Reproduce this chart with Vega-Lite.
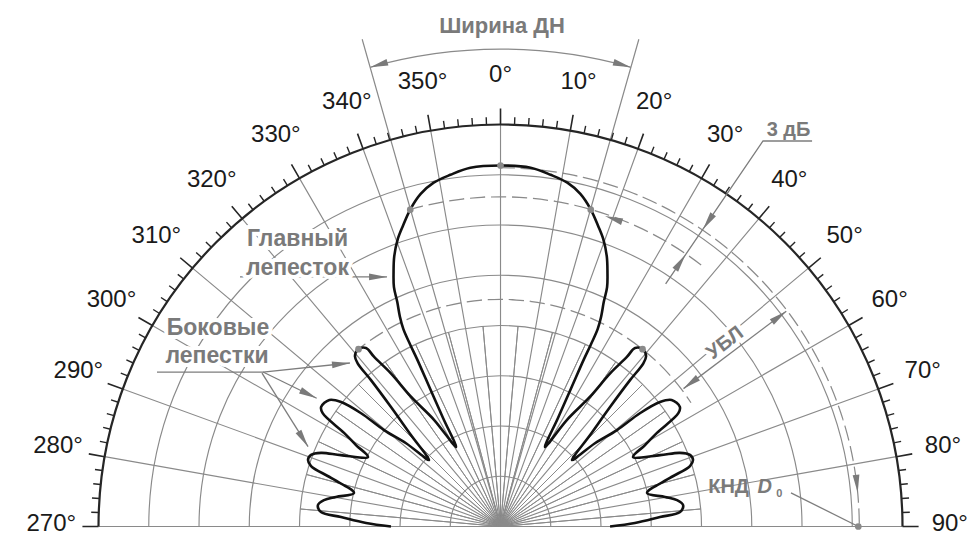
{
"$schema": "https://vega.github.io/schema/vega-lite/v6.json",
"width": 976, "height": 535, "padding": 0,
"autosize": {"type": "none"},
"background": "white",
"config": {"view": {"stroke": null}},
"layer": [
{"data": {"values": [{"r":5},{"r":10},{"r":15},{"r":20},{"r":25},{"r":30},{"r":35}]},
 "mark": {"type":"arc","fill":"transparent","stroke":"#8a8a8a","strokeWidth":1.15},
 "encoding": {
  "x":{"datum":0,"type":"quantitative","scale":{"domain":[-49.8,47.31],"nice":false,"zero":false},"axis":null},
  "y":{"datum":0,"type":"quantitative","scale":{"domain":[-0.846,52.39],"nice":false,"zero":false},"axis":null},
  "theta":{"datum":-90,"type":"quantitative","scale":{"domain":[-180,180],"range":[-3.14159265,3.14159265]}},
  "theta2":{"datum":90},
  "radius":{"field":"r","type":"quantitative","scale":{"type":"linear","domain":[0,40],"range":[0,402]}},
  "radius2":{"field":"r"}}},
{"data": {"values": [{"a":-90},{"a":-80},{"a":-70},{"a":-60},{"a":-50},{"a":-40},{"a":-30},{"a":-20},{"a":-10},{"a":0},{"a":10},{"a":20},{"a":30},{"a":40},{"a":50},{"a":60},{"a":70},{"a":80},{"a":90}]},
 "mark": {"type":"arc","fill":"transparent","stroke":"#8a8a8a","strokeWidth":1.15},
 "encoding": {
  "x":{"datum":0,"type":"quantitative","scale":{"domain":[-49.8,47.31],"nice":false,"zero":false},"axis":null},
  "y":{"datum":0,"type":"quantitative","scale":{"domain":[-0.846,52.39],"nice":false,"zero":false},"axis":null},
  "theta":{"field":"a","type":"quantitative","scale":{"domain":[-180,180],"range":[-3.14159265,3.14159265]}},
  "theta2":{"field":"a"},
  "radius":{"datum":0,"type":"quantitative","scale":{"type":"linear","domain":[0,40],"range":[0,402]}},
  "radius2":{"datum":40}}},
{"data": {"values": [{"a":-85},{"a":-75},{"a":-65},{"a":-55},{"a":-45},{"a":-35},{"a":-25},{"a":-15},{"a":-5},{"a":5},{"a":15},{"a":25},{"a":35},{"a":45},{"a":55},{"a":65},{"a":75},{"a":85}]},
 "mark": {"type":"arc","fill":"transparent","stroke":"#8a8a8a","strokeWidth":1.0},
 "encoding": {
  "x":{"datum":0,"type":"quantitative","scale":{"domain":[-49.8,47.31],"nice":false,"zero":false},"axis":null},
  "y":{"datum":0,"type":"quantitative","scale":{"domain":[-0.846,52.39],"nice":false,"zero":false},"axis":null},
  "theta":{"field":"a","type":"quantitative","scale":{"domain":[-180,180],"range":[-3.14159265,3.14159265]}},
  "theta2":{"field":"a"},
  "radius":{"datum":0,"type":"quantitative","scale":{"type":"linear","domain":[0,40],"range":[0,402]}},
  "radius2":{"datum":20}}},
{"data": {"values": [{"a":-15.85},{"a":15.85}]},
 "mark": {"type":"arc","fill":"transparent","stroke":"#8a8a8a","strokeWidth":1.2},
 "encoding": {
  "x":{"datum":0,"type":"quantitative","scale":{"domain":[-49.8,47.31],"nice":false,"zero":false},"axis":null},
  "y":{"datum":0,"type":"quantitative","scale":{"domain":[-0.846,52.39],"nice":false,"zero":false},"axis":null},
  "theta":{"field":"a","type":"quantitative","scale":{"domain":[-180,180],"range":[-3.14159265,3.14159265]}},
  "theta2":{"field":"a"},
  "radius":{"datum":0,"type":"quantitative","scale":{"type":"linear","domain":[0,40],"range":[0,402]}},
  "radius2":{"datum":50.4}}},
{"data": {"values": [{"a":0,"a2":90,"r":35.7}]},
 "mark": {"type":"arc","fill":"transparent","stroke":"#8a8a8a","strokeWidth":1.2,"strokeDash":[15,6],"strokeDashOffset":0.42},
 "encoding": {
  "x":{"datum":0,"type":"quantitative","scale":{"domain":[-49.8,47.31],"nice":false,"zero":false},"axis":null},
  "y":{"datum":0,"type":"quantitative","scale":{"domain":[-0.846,52.39],"nice":false,"zero":false},"axis":null},
  "theta":{"field":"a","type":"quantitative","scale":{"domain":[-180,180],"range":[-3.14159265,3.14159265]}},
  "theta2":{"field":"a2"},
  "radius":{"field":"r","type":"quantitative","scale":{"type":"linear","domain":[0,40],"range":[0,402]}},
  "radius2":{"field":"r"}}},
{"data": {"values": [{"a":-15.9,"a2":38,"r":32.8}]},
 "mark": {"type":"arc","fill":"transparent","stroke":"#8a8a8a","strokeWidth":1.2,"strokeDash":[15,6],"strokeDashOffset":1.9},
 "encoding": {
  "x":{"datum":0,"type":"quantitative","scale":{"domain":[-49.8,47.31],"nice":false,"zero":false},"axis":null},
  "y":{"datum":0,"type":"quantitative","scale":{"domain":[-0.846,52.39],"nice":false,"zero":false},"axis":null},
  "theta":{"field":"a","type":"quantitative","scale":{"domain":[-180,180],"range":[-3.14159265,3.14159265]}},
  "theta2":{"field":"a2"},
  "radius":{"field":"r","type":"quantitative","scale":{"type":"linear","domain":[0,40],"range":[0,402]}},
  "radius2":{"field":"r"}}},
{"data": {"values": [{"a":-39.2,"a2":57,"r":22.6}]},
 "mark": {"type":"arc","fill":"transparent","stroke":"#8a8a8a","strokeWidth":1.2,"strokeDash":[15,6],"strokeDashOffset":4.15},
 "encoding": {
  "x":{"datum":0,"type":"quantitative","scale":{"domain":[-49.8,47.31],"nice":false,"zero":false},"axis":null},
  "y":{"datum":0,"type":"quantitative","scale":{"domain":[-0.846,52.39],"nice":false,"zero":false},"axis":null},
  "theta":{"field":"a","type":"quantitative","scale":{"domain":[-180,180],"range":[-3.14159265,3.14159265]}},
  "theta2":{"field":"a2"},
  "radius":{"field":"r","type":"quantitative","scale":{"type":"linear","domain":[0,40],"range":[0,402]}},
  "radius2":{"field":"r"}}},
{"data": {"values": [{"a":-15.85,"a2":15.85,"r":47.5}]},
 "mark": {"type":"arc","fill":"transparent","stroke":"#8a8a8a","strokeWidth":1.3},
 "encoding": {
  "x":{"datum":0,"type":"quantitative","scale":{"domain":[-49.8,47.31],"nice":false,"zero":false},"axis":null},
  "y":{"datum":0,"type":"quantitative","scale":{"domain":[-0.846,52.39],"nice":false,"zero":false},"axis":null},
  "theta":{"field":"a","type":"quantitative","scale":{"domain":[-180,180],"range":[-3.14159265,3.14159265]}},
  "theta2":{"field":"a2"},
  "radius":{"field":"r","type":"quantitative","scale":{"type":"linear","domain":[0,40],"range":[0,402]}},
  "radius2":{"field":"r"}}},
{"data": {"values": [{"a":-90,"a2":90,"r":40}]},
 "mark": {"type":"arc","fill":"transparent","stroke":"#262626","strokeWidth":2.2},
 "encoding": {
  "x":{"datum":0,"type":"quantitative","scale":{"domain":[-49.8,47.31],"nice":false,"zero":false},"axis":null},
  "y":{"datum":0,"type":"quantitative","scale":{"domain":[-0.846,52.39],"nice":false,"zero":false},"axis":null},
  "theta":{"field":"a","type":"quantitative","scale":{"domain":[-180,180],"range":[-3.14159265,3.14159265]}},
  "theta2":{"field":"a2"},
  "radius":{"field":"r","type":"quantitative","scale":{"type":"linear","domain":[0,40],"range":[0,402]}},
  "radius2":{"field":"r"}}},
{"data": {"values": [{"a":-88},{"a":-86},{"a":-84},{"a":-82},{"a":-78},{"a":-76},{"a":-74},{"a":-72},{"a":-68},{"a":-66},{"a":-64},{"a":-62},{"a":-58},{"a":-56},{"a":-54},{"a":-52},{"a":-48},{"a":-46},{"a":-44},{"a":-42},{"a":-38},{"a":-36},{"a":-34},{"a":-32},{"a":-28},{"a":-26},{"a":-24},{"a":-22},{"a":-18},{"a":-16},{"a":-14},{"a":-12},{"a":-8},{"a":-6},{"a":-4},{"a":-2},{"a":2},{"a":4},{"a":6},{"a":8},{"a":12},{"a":14},{"a":16},{"a":18},{"a":22},{"a":24},{"a":26},{"a":28},{"a":32},{"a":34},{"a":36},{"a":38},{"a":42},{"a":44},{"a":46},{"a":48},{"a":52},{"a":54},{"a":56},{"a":58},{"a":62},{"a":64},{"a":66},{"a":68},{"a":72},{"a":74},{"a":76},{"a":78},{"a":82},{"a":84},{"a":86},{"a":88}]},
 "mark": {"type":"arc","fill":"transparent","stroke":"#262626","strokeWidth":1.4},
 "encoding": {
  "x":{"datum":0,"type":"quantitative","scale":{"domain":[-49.8,47.31],"nice":false,"zero":false},"axis":null},
  "y":{"datum":0,"type":"quantitative","scale":{"domain":[-0.846,52.39],"nice":false,"zero":false},"axis":null},
  "theta":{"field":"a","type":"quantitative","scale":{"domain":[-180,180],"range":[-3.14159265,3.14159265]}},
  "theta2":{"field":"a"},
  "radius":{"datum":40,"type":"quantitative","scale":{"type":"linear","domain":[0,40],"range":[0,402]}},
  "radius2":{"datum":40.75}}},
{"data": {"values": [{"a":-90},{"a":-80},{"a":-70},{"a":-60},{"a":-50},{"a":-40},{"a":-30},{"a":-20},{"a":-10},{"a":0},{"a":10},{"a":20},{"a":30},{"a":40},{"a":50},{"a":60},{"a":70},{"a":80},{"a":90}]},
 "mark": {"type":"arc","fill":"transparent","stroke":"#262626","strokeWidth":1.6},
 "encoding": {
  "x":{"datum":0,"type":"quantitative","scale":{"domain":[-49.8,47.31],"nice":false,"zero":false},"axis":null},
  "y":{"datum":0,"type":"quantitative","scale":{"domain":[-0.846,52.39],"nice":false,"zero":false},"axis":null},
  "theta":{"field":"a","type":"quantitative","scale":{"domain":[-180,180],"range":[-3.14159265,3.14159265]}},
  "theta2":{"field":"a"},
  "radius":{"datum":40,"type":"quantitative","scale":{"type":"linear","domain":[0,40],"range":[0,402]}},
  "radius2":{"datum":41.6}}},
{"data": {"values": [
  {"g":"w3db","i":0,"x":16.43,"y":24.14},{"g":"w3db","i":1,"x":26.12,"y":38.36},{"g":"w3db","i":2,"x":31.0,"y":38.36},
  {"g":"ubl","i":0,"x":18.21,"y":13.72},{"g":"ubl","i":1,"x":28.43,"y":21.42},
  {"g":"knd","i":0,"x":28.9,"y":3.35},{"g":"knd","i":1,"x":35.6,"y":0.0},
  {"g":"main","i":0,"x":-25.92,"y":24.83},{"g":"main","i":1,"x":-11.29,"y":24.83},
  {"g":"s0","i":0,"x":-34.18,"y":15.37},{"g":"s0","i":1,"x":-23.63,"y":15.37},
  {"g":"s1","i":0,"x":-23.63,"y":15.37},{"g":"s1","i":1,"x":-14.98,"y":16.27},
  {"g":"s2","i":0,"x":-23.63,"y":15.37},{"g":"s2","i":1,"x":-18.29,"y":12.76},
  {"g":"s3","i":0,"x":-23.73,"y":15.27},{"g":"s3","i":1,"x":-19.15,"y":7.94}]},
 "mark": {"type":"line","color":"#7d7d7d","strokeWidth":1.3},
 "encoding": {
  "x":{"field":"x","type":"quantitative","scale":{"domain":[-49.8,47.31],"nice":false,"zero":false},"axis":null},
  "y":{"field":"y","type":"quantitative","scale":{"domain":[-0.846,52.39],"nice":false,"zero":false},"axis":null},
  "detail":{"field":"g"},
  "order":{"field":"i","type":"quantitative"}}},
{"data": {"values": [
  {"t":"Главный","x":-20.2,"y":27.91},{"t":"лепесток","x":-20.2,"y":25.02},
  {"t":"Боковые","x":-28.11,"y":19.05},{"t":"лепестки","x":-28.2,"y":16.27}]},
 "mark": {"type":"text","font":"Liberation Sans","fontWeight":"bold","fontSize":23,"align":"center","baseline":"alphabetic","fill":"white","stroke":"white","strokeWidth":8,"strokeJoin":"round"},
 "encoding": {
  "x":{"field":"x","type":"quantitative","scale":{"domain":[-49.8,47.31],"nice":false,"zero":false},"axis":null},
  "y":{"field":"y","type":"quantitative","scale":{"domain":[-0.846,52.39],"nice":false,"zero":false},"axis":null},
  "text":{"field":"t"}}},
{"data": {"values": [
  {"t":"Главный","x":-20.2,"y":27.91},{"t":"лепесток","x":-20.2,"y":25.02},
  {"t":"Боковые","x":-28.11,"y":19.05},{"t":"лепестки","x":-28.2,"y":16.27}]},
 "mark": {"type":"text","font":"Liberation Sans","fontWeight":"bold","fontSize":23,"align":"center","baseline":"alphabetic","fill":"#7a7a7a"},
 "encoding": {
  "x":{"field":"x","type":"quantitative","scale":{"domain":[-49.8,47.31],"nice":false,"zero":false},"axis":null},
  "y":{"field":"y","type":"quantitative","scale":{"domain":[-0.846,52.39],"nice":false,"zero":false},"axis":null},
  "text":{"field":"t"}}},
{"data": {"values": [{"t":"УБЛ","x":22.34,"y":18.26}]},
 "mark": {"type":"text","font":"Liberation Sans","fontWeight":"bold","fontSize":20,"align":"center","baseline":"middle","angle":-37,"fill":"white","stroke":"white","strokeWidth":8,"strokeJoin":"round"},
 "encoding": {
  "x":{"field":"x","type":"quantitative","scale":{"domain":[-49.8,47.31],"nice":false,"zero":false},"axis":null},
  "y":{"field":"y","type":"quantitative","scale":{"domain":[-0.846,52.39],"nice":false,"zero":false},"axis":null},
  "text":{"field":"t"}}},
{"data": {"values": [{"t":"УБЛ","x":22.34,"y":18.26}]},
 "mark": {"type":"text","font":"Liberation Sans","fontWeight":"bold","fontSize":20,"align":"center","baseline":"middle","angle":-37,"fill":"#7a7a7a"},
 "encoding": {
  "x":{"field":"x","type":"quantitative","scale":{"domain":[-49.8,47.31],"nice":false,"zero":false},"axis":null},
  "y":{"field":"y","type":"quantitative","scale":{"domain":[-0.846,52.39],"nice":false,"zero":false},"axis":null},
  "text":{"field":"t"}}},
{"data": {"values": [{"t":"КНД","x":22.7,"y":3.93}]},
 "mark": {"type":"text","font":"Liberation Sans","fontWeight":"bold","fontSize":20,"align":"center","baseline":"middle","fill":"#7a7a7a"},
 "encoding": {
  "x":{"field":"x","type":"quantitative","scale":{"domain":[-49.8,47.31],"nice":false,"zero":false},"axis":null},
  "y":{"field":"y","type":"quantitative","scale":{"domain":[-0.846,52.39],"nice":false,"zero":false},"axis":null},
  "text":{"field":"t"}}},
{"data": {"values": [{"t":"D","x":26.3,"y":3.93}]},
 "mark": {"type":"text","font":"Liberation Sans","fontWeight":"bold","fontStyle":"italic","fontSize":20,"align":"center","baseline":"middle","fill":"#7a7a7a"},
 "encoding": {
  "x":{"field":"x","type":"quantitative","scale":{"domain":[-49.8,47.31],"nice":false,"zero":false},"axis":null},
  "y":{"field":"y","type":"quantitative","scale":{"domain":[-0.846,52.39],"nice":false,"zero":false},"axis":null},
  "text":{"field":"t"}}},
{"data": {"values": [{"t":"0","x":27.75,"y":3.2}]},
 "mark": {"type":"text","font":"Liberation Sans","fontWeight":"bold","fontSize":11,"align":"center","baseline":"middle","fill":"#7a7a7a","color":"#7a7a7a"},
 "encoding": {
  "x":{"field":"x","type":"quantitative","scale":{"domain":[-49.8,47.31],"nice":false,"zero":false},"axis":null},
  "y":{"field":"y","type":"quantitative","scale":{"domain":[-0.846,52.39],"nice":false,"zero":false},"axis":null},
  "text":{"field":"t"}}},
{"data": {"values": [{"t":"Ширина ДН","x":0.15,"y":49.85}]},
 "mark": {"type":"text","font":"Liberation Sans","fontWeight":"bold","fontSize":22,"align":"center","baseline":"middle","fill":"#7a7a7a"},
 "encoding": {
  "x":{"field":"x","type":"quantitative","scale":{"domain":[-49.8,47.31],"nice":false,"zero":false},"axis":null},
  "y":{"field":"y","type":"quantitative","scale":{"domain":[-0.846,52.39],"nice":false,"zero":false},"axis":null},
  "text":{"field":"t"}}},
{"data": {"values": [{"t":"3 дБ","x":28.66,"y":38.9}]},
 "mark": {"type":"text","font":"Liberation Sans","fontWeight":"bold","fontSize":20,"align":"center","baseline":"alphabetic","fill":"#7a7a7a"},
 "encoding": {
  "x":{"field":"x","type":"quantitative","scale":{"domain":[-49.8,47.31],"nice":false,"zero":false},"axis":null},
  "y":{"field":"y","type":"quantitative","scale":{"domain":[-0.846,52.39],"nice":false,"zero":false},"axis":null},
  "text":{"field":"t"}}},
{"data": {"values": [
  {"i":0,"a":-90,"r":10.9},{"i":1,"a":-88.5,"r":13.38},{"i":2,"a":-86.6,"r":15.9},{"i":3,"a":-85.4,"r":17.92},{"i":4,"a":-83.3,"r":18.29},{"i":5,"a":-81.5,"r":17.76},{"i":6,"a":-79.8,"r":16.63},{"i":7,"a":-77.1,"r":14.96},
  {"i":8,"a":-74.0,"r":17.54},{"i":9,"a":-72.3,"r":19.79},{"i":10,"a":-70.9,"r":20.27},{"i":11,"a":-69.3,"r":20.15},{"i":12,"a":-67.7,"r":19.3},{"i":13,"a":-65.9,"r":17.39},{"i":14,"a":-62.3,"r":14.89},
  {"i":15,"a":-60.6,"r":16.51},{"i":16,"a":-59.1,"r":18.14},{"i":17,"a":-57.5,"r":20.98},{"i":18,"a":-56.3,"r":21.45},{"i":19,"a":-53.5,"r":21.18},{"i":20,"a":-52.0,"r":20.13},{"i":21,"a":-50.9,"r":17.87},{"i":22,"a":-50.4,"r":15.05},{"i":23,"a":-48.6,"r":12.53},{"i":24,"a":-47.1,"r":9.71},
  {"i":25,"a":-44.4,"r":12.74},{"i":26,"a":-42.5,"r":16.13},{"i":27,"a":-41.5,"r":19.45},{"i":28,"a":-41.2,"r":21.58},{"i":29,"a":-40.5,"r":22.3},{"i":30,"a":-38.7,"r":22.6},{"i":31,"a":-37.0,"r":22.24},{"i":32,"a":-36.7,"r":21.04},{"i":33,"a":-35.6,"r":18.74},{"i":34,"a":-34.6,"r":15.69},{"i":35,"a":-31.9,"r":12.48},{"i":36,"a":-29.2,"r":9.06},
  {"i":37,"a":-27.9,"r":12.22},{"i":38,"a":-27.06,"r":15.42},{"i":39,"a":-26.5,"r":18.61},{"i":40,"a":-26.4,"r":20.2},{"i":41,"a":-26.2,"r":21.89},{"i":42,"a":-25.6,"r":23.18},{"i":43,"a":-24.7,"r":24.58},{"i":44,"a":-24.0,"r":26.07},{"i":45,"a":-22.8,"r":27.46},{"i":46,"a":-21.5,"r":28.86},{"i":47,"a":-19.7,"r":30.35},{"i":48,"a":-18.0,"r":31.44},{"i":49,"a":-15.9,"r":32.79},{"i":50,"a":-13.5,"r":34.03},{"i":51,"a":-11.0,"r":34.85},{"i":52,"a":-8.1,"r":35.35},{"i":53,"a":-4.8,"r":35.82},
  {"i":54,"a":0,"r":35.92},
  {"i":55,"a":4.8,"r":35.82},{"i":56,"a":8.1,"r":35.35},{"i":57,"a":11.0,"r":34.85},{"i":58,"a":13.5,"r":34.03},{"i":59,"a":15.9,"r":32.79},{"i":60,"a":18.0,"r":31.44},{"i":61,"a":19.7,"r":30.35},{"i":62,"a":21.5,"r":28.86},{"i":63,"a":22.8,"r":27.46},{"i":64,"a":24.0,"r":26.07},{"i":65,"a":24.7,"r":24.58},{"i":66,"a":25.6,"r":23.18},{"i":67,"a":26.2,"r":21.89},{"i":68,"a":26.4,"r":20.2},{"i":69,"a":26.5,"r":18.61},{"i":70,"a":27.06,"r":15.42},{"i":71,"a":27.9,"r":12.22},{"i":72,"a":29.2,"r":9.06},
  {"i":73,"a":31.9,"r":12.48},{"i":74,"a":34.6,"r":15.69},{"i":75,"a":35.6,"r":18.74},{"i":76,"a":36.7,"r":21.04},{"i":77,"a":37.0,"r":22.24},{"i":78,"a":38.7,"r":22.6},{"i":79,"a":40.5,"r":22.3},{"i":80,"a":41.2,"r":21.58},{"i":81,"a":41.5,"r":19.45},{"i":82,"a":42.5,"r":16.13},{"i":83,"a":44.4,"r":12.74},{"i":84,"a":47.1,"r":9.71},
  {"i":85,"a":48.6,"r":12.53},{"i":86,"a":50.4,"r":15.05},{"i":87,"a":50.9,"r":17.87},{"i":88,"a":52.0,"r":20.13},{"i":89,"a":53.5,"r":21.18},{"i":90,"a":56.3,"r":21.45},{"i":91,"a":57.5,"r":20.98},{"i":92,"a":59.1,"r":18.14},{"i":93,"a":60.6,"r":16.51},{"i":94,"a":62.3,"r":14.89},
  {"i":95,"a":65.9,"r":17.39},{"i":96,"a":67.7,"r":19.3},{"i":97,"a":69.3,"r":20.15},{"i":98,"a":70.9,"r":20.27},{"i":99,"a":72.3,"r":19.79},{"i":100,"a":74.0,"r":17.54},{"i":101,"a":77.1,"r":14.96},
  {"i":102,"a":79.8,"r":16.63},{"i":103,"a":81.5,"r":17.76},{"i":104,"a":83.3,"r":18.29},{"i":105,"a":85.4,"r":17.92},{"i":106,"a":86.6,"r":15.9},{"i":107,"a":88.5,"r":13.38},{"i":108,"a":90,"r":10.9}]},
 "transform": [{"calculate":"datum.r*sin(datum.a*PI/180)","as":"x"},{"calculate":"datum.r*cos(datum.a*PI/180)","as":"y"}],
 "mark": {"type":"line","color":"#111111","strokeWidth":2.6,"strokeJoin":"round","interpolate":"catmull-rom"},
 "encoding": {
  "x":{"field":"x","type":"quantitative","scale":{"domain":[-49.8,47.31],"nice":false,"zero":false},"axis":null},
  "y":{"field":"y","type":"quantitative","scale":{"domain":[-0.846,52.39],"nice":false,"zero":false},"axis":null},
  "order":{"field":"i","type":"quantitative"}}},
{"data": {"values": [{"x":0,"y":35.92},{"x":-8.98,"y":31.53},{"x":8.98,"y":31.53},{"x":-14.13,"y":17.64},{"x":14.13,"y":17.64},{"x":35.6,"y":0}]},
 "mark": {"type":"point","filled":true,"color":"#8a8a8a","size":45,"opacity":1},
 "encoding": {
  "x":{"field":"x","type":"quantitative","scale":{"domain":[-49.8,47.31],"nice":false,"zero":false},"axis":null},
  "y":{"field":"y","type":"quantitative","scale":{"domain":[-0.846,52.39],"nice":false,"zero":false},"axis":null}}},
{"data": {"values": [
  {"x":-12.97,"y":45.7,"b":254.15},{"x":12.97,"y":45.7,"b":105.85},
  {"x":20.15,"y":29.59,"b":214.25},{"x":18.4,"y":27.03,"b":34.25},
  {"x":28.43,"y":21.42,"b":53},{"x":18.21,"y":13.72,"b":233},
  {"x":35.54,"y":3.36,"b":174.6},{"x":10.4,"y":30.9,"b":288.6},
  {"x":-11.29,"y":24.83,"b":90},{"x":-14.98,"y":16.27,"b":84.1},{"x":-18.29,"y":12.76,"b":116},{"x":-19.15,"y":7.94,"b":147.9}]},
 "mark": {"type":"point","filled":true,"color":"#7a7a7a","opacity":1,"size":225,"shape":"M0,0 L0.45,2.4 L-0.45,2.4 Z"},
 "encoding": {
  "x":{"field":"x","type":"quantitative","scale":{"domain":[-49.8,47.31],"nice":false,"zero":false},"axis":null},
  "y":{"field":"y","type":"quantitative","scale":{"domain":[-0.846,52.39],"nice":false,"zero":false},"axis":null},
  "angle":{"field":"b","type":"quantitative","scale":null}}},
{"data": {"values": [{"a":-90,"t":"270°"},{"a":-80,"t":"280°"},{"a":-70,"t":"290°"},{"a":-60,"t":"300°"},{"a":-50,"t":"310°"},{"a":-40,"t":"320°"},{"a":-30,"t":"330°"},{"a":-20,"t":"340°"},{"a":-10,"t":"350°"},{"a":0,"t":"0°"},{"a":10,"t":"10°"},{"a":20,"t":"20°"},{"a":30,"t":"30°"},{"a":40,"t":"40°"},{"a":50,"t":"50°"},{"a":60,"t":"60°"},{"a":70,"t":"70°"},{"a":80,"t":"80°"},{"a":90,"t":"90°"}]},
 "transform": [{"calculate":"44.7*sin(datum.a*PI/180)","as":"x"},{"calculate":"44.7*cos(datum.a*PI/180)","as":"y"}],
 "mark": {"type":"text","font":"Liberation Sans","fontSize":24,"align":"center","baseline":"middle","dy":-2,"fill":"#1a1a1a"},
 "encoding": {
  "x":{"field":"x","type":"quantitative","scale":{"domain":[-49.8,47.31],"nice":false,"zero":false},"axis":null},
  "y":{"field":"y","type":"quantitative","scale":{"domain":[-0.846,52.39],"nice":false,"zero":false},"axis":null},
  "text":{"field":"t"}}}
]
}
